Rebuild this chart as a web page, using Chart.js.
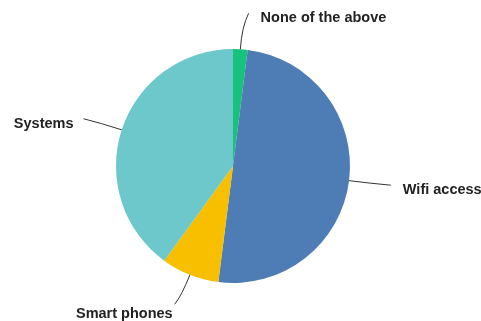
<!DOCTYPE html>
<html>
<head>
<meta charset="utf-8">
<script src="https://cdn.jsdelivr.net/npm/chart.js@4"></script>
<style>
  html, body { margin: 0; padding: 0; background: #ffffff; }
  #wrap { width: 481px; height: 321px; }
</style>
</head>
<body>
<div id="wrap"><canvas id="graficoPizza" width="481" height="321"></canvas></div>
<script>
var categorias = ['None of the above', 'Wifi access', 'Smart phones', 'Systems'];
var valores = [2, 50, 8, 40];
var cores = ['#17c27a', '#4e7db6', '#f8be00', '#6dc8cc'];

// draws the outside labels with curved leader lines
var rotulosFora = {
    id: 'rotulosFora',
    afterDatasetsDraw: function(chart) {
        var ctx = chart.ctx;
        var meta = chart.getDatasetMeta(0);
        ctx.save();
        ctx.font = 'bold 14.5px "Liberation Sans", Arial, sans-serif';
        ctx.fillStyle = '#222222';
        ctx.strokeStyle = '#333333';
        ctx.lineWidth = 1;
        ctx.textBaseline = 'middle';
        meta.data.forEach(function(arc, i) {
            var p = arc.getProps(['x', 'y', 'startAngle', 'endAngle', 'outerRadius'], true);
            var meio = (p.startAngle + p.endAngle) / 2;
            var cos = Math.cos(meio), sin = Math.sin(meio);
            var r = p.outerRadius;
            var x0 = p.x + cos * r, y0 = p.y + sin * r;
            var xc = p.x + cos * (r + 22), yc = p.y + sin * (r + 22);
            var direita = cos >= 0;
            var embaixo = sin > 0.8;
            var x1 = p.x + cos * (r + 36) + (direita ? 6 : -4);
            var y1 = p.y + sin * (r + 36);
            if (embaixo) { x1 += 2; y1 -= 4; }
            ctx.beginPath();
            ctx.moveTo(x0, y0);
            ctx.quadraticCurveTo(xc, yc, x1, y1);
            ctx.stroke();
            if (embaixo) {
                ctx.textAlign = 'right';
                ctx.fillText(categorias[i], x1 - 2, y1 + 10);
            } else {
                ctx.textAlign = direita ? 'left' : 'right';
                ctx.fillText(categorias[i], x1 + (direita ? 12 : -10), y1 + 5);
            }
        });
        ctx.restore();
    }
};

var ctx = document.getElementById('graficoPizza').getContext('2d');
var myChart = new Chart(ctx, {
    type: 'pie',
    data: {
        labels: categorias,
        datasets: [{
            data: valores,
            backgroundColor: cores,
            borderWidth: 0
        }]
    },
    options: {
        responsive: false,
        animation: false,
        layout: {
            padding: { left: 100, right: 115, top: 49, bottom: 38 }
        },
        plugins: {
            legend: { display: false },
            tooltip: { enabled: false }
        }
    },
    plugins: [rotulosFora]
});
</script>
</body>
</html>
